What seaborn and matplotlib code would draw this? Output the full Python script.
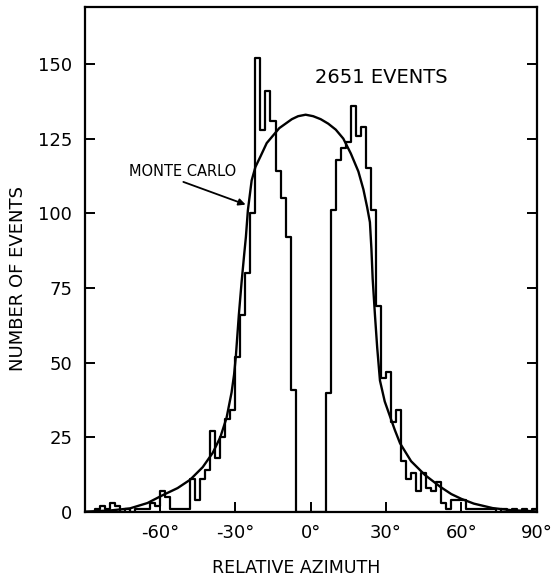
import numpy as np
import pandas as pd
import matplotlib
matplotlib.use("Agg")
import matplotlib.pyplot as plt
import seaborn as sns

# ---- data ----
bin_width = 2.0
bin_left = list(range(-90, 90, 2))
counts = [
    0, 0, 1, 2, 1, 3, 2, 0, 1, 0,          # -90 .. -72
    1, 1, 1, 3, 2, 7, 5, 1, 1, 1,          # -70 .. -52
    1, 11, 4, 11, 14, 27, 18, 25, 31, 34,  # -50 .. -32
    52, 66, 80, 100, 152, 128, 141, 131, 114, 105,  # -30 .. -12
    92, 41, 0, 0, 0, 0, 0, 0, 40, 101,     # -10 .. 8
    118, 122, 124, 136, 126, 129, 115, 101, 69, 45,  # 10 .. 28
    47, 30, 34, 17, 11, 13, 7, 13, 8, 7,   # 30 .. 48
    10, 3, 1, 4, 4, 4, 1, 1, 1, 1,         # 50 .. 68
    1, 1, 0, 1, 0, 1, 0, 1, 0, 1,          # 70 .. 88
]

curve_x = [-90, -80, -72, -65, -59, -53, -48, -43, -39, -36, -33.5, -31.5,
           -30.5, -29.8, -28.6, -27.5, -26.5, -25.8, -25.0, -23.5, -22.0,
           -20.0, -17.5, -15.0, -12.5, -10.0, -7.5, -5.0, -2.0, 1.0, 4.0,
           7.0, 10.0, 13.0, 16.0, 19.0, 21.0, 22.5, 23.6, 24.2, 24.7, 25.6,
           26.5, 27.6, 29.5, 31.6, 33.5, 35.6, 40.0, 45.5, 51.5, 56.0, 60.0,
           65.0, 72.5, 80.0, 90.0]
curve_y = [0.1, 0.5, 1.2, 3.0, 5.6, 8.0, 10.8, 15.0, 19.8, 25.0, 31.5, 40,
           46, 52, 66, 77, 86, 92, 101, 111, 115.5,
           119, 123.5, 126, 128.5, 130, 131.5, 132.5, 133, 132.5, 131.5,
           130, 128, 125, 120, 114, 108, 102, 97, 88, 78, 66,
           55, 44, 37, 32, 27.5, 23, 17, 12.4, 8.5, 6, 4.4,
           2.8, 1.3, 0.6, 0.2]

x_ticks = [-60, -30, 0, 30, 60, 90]
x_ticklabels = ["-60°", "-30°", "0°", "30°", "60°", "90°"]
y_ticks = [0, 25, 50, 75, 100, 125, 150]

# ---- plotting ----
sns.set_theme(style="ticks")
plt.rcParams["font.family"] = ["DejaVu Sans"]

fig = plt.figure(figsize=(5.6, 5.78), dpi=100)
ax = fig.add_axes([0.1512, 0.1142, 0.8071, 0.8734])

centers = [b + bin_width / 2 for b in bin_left]
edges = bin_left + [bin_left[-1] + bin_width]
hist_df = pd.DataFrame({"azimuth": centers, "n": counts})
sns.histplot(data=hist_df, x="azimuth", weights="n", bins=edges,
             element="step", fill=False, color="black", linewidth=1.6, ax=ax)

curve_df = pd.DataFrame({"azimuth": curve_x, "mc": curve_y})
sns.lineplot(data=curve_df, x="azimuth", y="mc", color="black",
             linewidth=1.7, ax=ax)

ax.set_xlim(-90, 90)
ax.set_ylim(0, 169)
ax.set_xticks(x_ticks)
ax.set_xticklabels(x_ticklabels)
ax.set_yticks(y_ticks)

for sp in ax.spines.values():
    sp.set_visible(True)
    sp.set_linewidth(1.6)
    sp.set_color("black")

ax.tick_params(axis="both", direction="in", length=7.5, width=1.4,
               labelsize=13, colors="black", pad=9)
ax.tick_params(axis="y", right=True, labelright=False)
ax.tick_params(axis="x", top=False)

ax.set_xlabel("RELATIVE AZIMUTH", fontsize=12.5, color="black")
ax.set_ylabel("NUMBER OF EVENTS", fontsize=13, color="black")
ax.xaxis.set_label_coords(0.469, -0.093)
ax.yaxis.set_label_coords(-0.128, 0.463)

ax.text(1.9, 145.3, "2651 EVENTS", fontsize=14, ha="left", va="center",
        color="black")
ax.text(-72.4, 113.9, "MONTE CARLO", fontsize=10.5, ha="left", va="center",
        color="black")
ax.annotate("", xy=(-25.9, 102.9), xytext=(-50.7, 110.5),
            arrowprops=dict(arrowstyle="-|>", lw=1.3, color="black",
                            mutation_scale=10, shrinkA=0, shrinkB=0))

fig.savefig("out.png", dpi=100, facecolor="white")
